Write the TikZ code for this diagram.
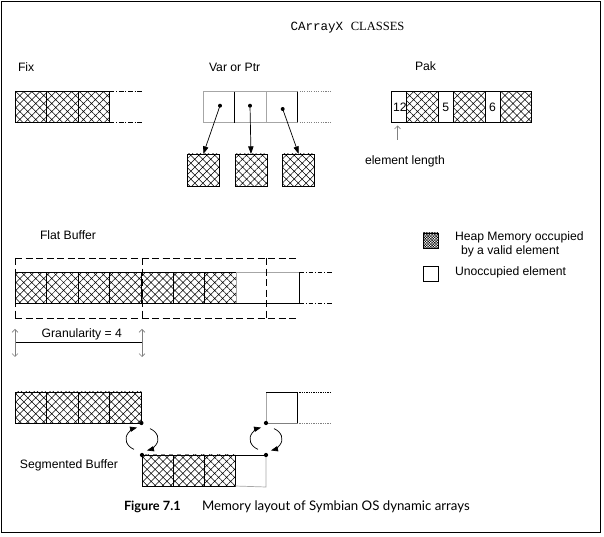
\documentclass[tikz,border=0pt]{standalone}
\usepackage{fontspec}
\setmainfont{Liberation Sans}
\newfontfamily\titlemono{Liberation Mono}
\newfontfamily\titleserif{Liberation Serif}
\newfontfamily\capfont{Lato}
\usetikzlibrary{calc,patterns.meta,arrows.meta}

% cell size of the arrays
\newcommand{\cellw}{0.948cm}
\newcommand{\cellh}{0.93cm}

\begin{document}
\begin{tikzpicture}[x=0.03cm,y=-0.03cm,
    every node/.style={inner sep=0pt,outer sep=0pt},
    lbl/.style={font=\fontsize{10.4}{12}\selectfont,anchor=base west},
    hcell/.style={draw,line width=0.6pt,anchor=north west,minimum width=\cellw,minimum height=\cellh,
        pattern={Hatch[angle=45,distance=4.8pt,line width=0.45pt]}},
    ecell/.style={line width=0.6pt,anchor=north west,minimum width=\cellw,minimum height=\cellh},
    dashdot/.style={line width=0.5pt,dash pattern=on 4pt off 1.5pt on 0.8pt off 1.5pt},
    dotline/.style={line width=0.5pt,dash pattern=on 1pt off 1pt},
    frame/.style={line width=0.6pt,dash pattern=on 6pt off 3pt},
    ptr/.style={line width=0.6pt,-{Triangle[length=6.5pt,width=4.5pt]}},
    grey arrow/.style={gray,line width=0.5pt,-{Straight Barb[length=2.5pt,width=5pt]}},
    turn/.style={line width=0.6pt,-{Triangle[length=6pt,width=4.5pt]}},
    captext/.style={anchor=base west,font=\capfont\fontsize{11.3}{13}\selectfont}
  ]

    \useasboundingbox (0,0) rectangle (604,537);
    \draw[line width=0.8pt] (1,1) rectangle (600,532);

    % title
    \node[anchor=base] (title) at (347.5,30.7)
        {\fontsize{10.7}{12}\selectfont\titlemono CArrayX \titleserif CLASSES};

    % Fix
    \node[lbl] (fixlbl) at (18,72) {Fix};
    \foreach \i in {0,1,2}
        \node[hcell] (fix\i) at (15+31.6*\i,91.7) {};
    \draw[dashdot] (fix2.north east) -- ++(32,0);
    \draw[dashdot] (fix2.south east) -- ++(32,0);

    % Var or Ptr
    \node[lbl] (varlbl) at (209,71.5) {Var or Ptr};
    \foreach \i in {0,1,2} {
        \node[ecell,draw=gray!70,minimum width=0.94cm] (var\i) at (203.3+31.3*\i,91.7) {};
        \node[hcell,minimum width=0.96cm,minimum height=0.96cm] (tgt\i) at (187.3+47.7*\i,154) {};
    }
    \draw[line width=0.6pt] (var0.north east) -- (var0.south east);
    \draw[line width=0.6pt] (var2.north east) -- (var2.south east);
    \draw[dotline,gray] (var2.north east) -- ++(33,0);
    \draw[dotline,gray] (var2.south east) -- ++(33,0);
    \coordinate (vp0) at (220,105.7);
    \coordinate (vp1) at (250,105.7);
    \coordinate (vp2) at (282.7,109);
    \foreach \i in {0,1,2} {
        \fill (vp\i) circle[radius=1.7pt];
        \draw[ptr] (vp\i) -- (tgt\i.north);
    }

    % Pak
    \node[lbl] (paklbl) at (415,71) {Pak};
    \node[ecell,draw,minimum width=0.45cm] (pak0) at (391.7,91.7) {};
    \node[hcell] (pak1) at (pak0.north east) {};
    \node[ecell,draw,minimum width=0.46cm] (pak2) at (pak1.north east) {};
    \node[hcell] (pak3) at (pak2.north east) {};
    \node[ecell,draw,minimum width=0.45cm] (pak4) at (pak3.north east) {};
    \node[hcell] (pak5) at (pak4.north east) {};
    \node[lbl] at ($(pak0.west)+(1.5,4.5)$) {12};
    \node[lbl] at ($(pak2.west)+(4,4.5)$) {5};
    \node[lbl] at ($(pak4.west)+(4,4.5)$) {6};
    \node[lbl] (ellbl) at (365,165) {element length};
    \coordinate (elfoot) at (397.5,140);
    \coordinate (eltip) at (397.5,125.5);
    \draw[grey arrow] (elfoot) -- (eltip);

    % Flat Buffer
    \node[lbl] (flatlbl) at (40,240) {Flat Buffer};
    \foreach \i in {0,...,6}
        \node[hcell] (flat\i) at (15+31.6*\i,272.3) {};
    \node[ecell] (flat7) at (flat6.north east) {};
    \node[ecell] (flat8) at (flat7.north east) {};
    \draw[line width=0.6pt,gray!70] (flat7.south west) -- (flat7.north west) -- (flat8.north east);
    \draw[line width=0.6pt] (flat7.south west) -- (flat8.south east) -- (flat8.north east);
    \draw[dashdot] (flat8.north east) -- ++(33,0);
    \draw[dashdot] (flat8.south east) -- ++(33,0);
    % granularity frame
    \draw[frame] (15,258) -- (297.6,258);
    \draw[frame] (15,318) -- (297.6,318);
    \foreach \gx in {15,142,266.7}
        \draw[frame] (\gx,258) -- (\gx,318);
    \coordinate (gl) at (15,342);
    \coordinate (gr) at (142,342);
    \draw[line width=0.6pt] (gl) -- (gr);
    \draw[grey arrow,{Straight Barb[length=2.5pt,width=5pt]}-{Straight Barb[length=2.5pt,width=5pt]}]
        ($(gl)+(0,-13)$) -- ($(gl)+(0,15)$);
    \draw[grey arrow,{Straight Barb[length=2.5pt,width=5pt]}-{Straight Barb[length=2.5pt,width=5pt]}]
        ($(gr)+(0,-13)$) -- ($(gr)+(0,15)$);
    \node[lbl] (granlbl) at (41.7,337.3) {Granularity = 4};

    % legend
    \node[draw,line width=0.6pt,anchor=north west,minimum width=0.45cm,minimum height=0.45cm,
        pattern={Hatch[angle=45,distance=1.6pt,line width=0.35pt]}] (keyfull) at (423,233) {};
    \node[draw,line width=0.6pt,anchor=north west,minimum width=0.45cm,minimum height=0.45cm] (keyfree) at (423,266) {};
    \node[lbl] (keyfulla) at (455,240.7) {Heap Memory occupied};
    \node[lbl] (keyfullb) at (461,254.3) {by a valid element};
    \node[lbl] (keyfreelbl) at (455,275.7) {Unoccupied element};

    % Segmented Buffer
    \node[lbl] (seglbl) at (20,468.3) {Segmented Buffer};
    \foreach \i in {0,...,3}
        \node[hcell] (segA\i) at (15+31.6*\i,392) {};
    \foreach \i in {0,1,2}
        \node[hcell,minimum width=0.93cm] (segB\i) at (142+31*\i,455) {};
    \coordinate (jB) at (266,455);
    \draw[line width=0.6pt] (segB2.north east) -- (jB);
    \draw[line width=0.6pt,gray!70] (jB) -- (266,487) -- (segB2.south east);
    \node[ecell,minimum width=0.93cm] (segC) at (266,392) {};
    \draw[line width=0.6pt,gray!70] (segC.south west) -- (segC.north west);
    \draw[line width=0.6pt] (segC.north west) -- (segC.north east) -- (segC.south east);
    \draw[line width=0.6pt,gray] (segC.south west) -- (segC.south east);
    \draw[dotline] (segC.north east) -- ++(33,0);
    \draw[dotline,gray] (segC.south east) -- ++(33,0);
    \foreach \p in {segA3.south east,segB0.north west,segC.south west,jB}
        \fill (\p) circle[radius=1.8pt];
    % segment links
    \coordinate (loopA) at (142,439);
    \coordinate (loopB) at (266,439);
    \foreach \c in {loopA,loopB} {
        \draw[turn] (\c) ++(240:0.48cm and 0.36cm) arc[start angle=240,end angle=108,x radius=0.48cm,y radius=0.36cm];
        \draw[turn] (\c) ++(60:0.48cm and 0.36cm) arc[start angle=60,end angle=-72,x radius=0.48cm,y radius=0.36cm];
    }

    % caption
    \node[captext,font=\capfont\bfseries\fontsize{10.9}{12}\selectfont] (capnum) at (124,510.7) {Figure 7.1};
    \node[captext] (captxt) at (202,510.7) {Memory layout of Symbian OS dynamic arrays};

\end{tikzpicture}
\end{document}
